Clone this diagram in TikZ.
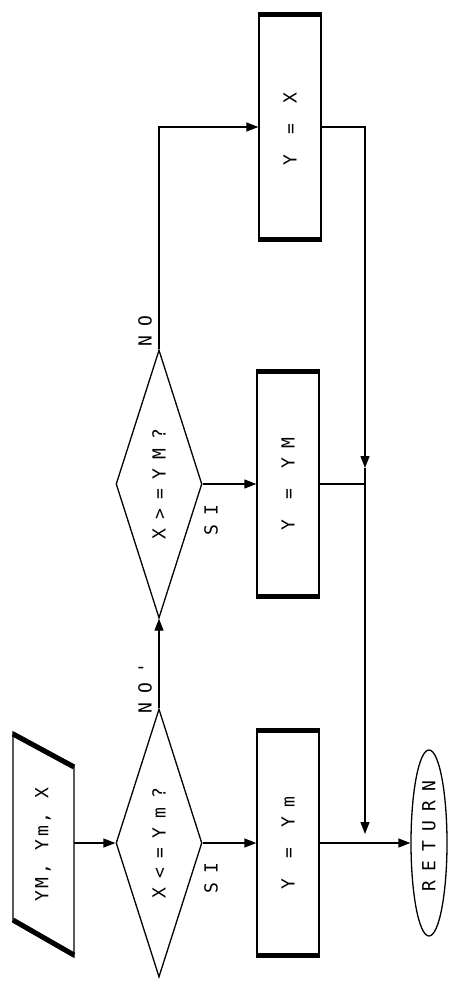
\documentclass[tikz,border=0pt]{standalone}
\usepackage{fontspec}
\usetikzlibrary{shapes.geometric,arrows.meta}
\newfontfamily\plotfont{DejaVu Sans Mono}[LetterSpace=50]
\newfontfamily\plotfontB{DejaVu Sans Mono}[LetterSpace=15]
\begin{document}
\begin{tikzpicture}[x=1pt,y=-1pt,
  ln/.style={line width=1.3pt},
  arr/.style={ln,-{Triangle[length=12pt,width=9pt]}},
  proc/.style={draw,ln,minimum width=62pt,minimum height=228pt,inner sep=0pt},
  dec/.style={draw,ln,diamond,minimum width=86pt,minimum height=268pt,inner sep=0pt},
  txt/.style={rotate=90,inner sep=0pt,font=\plotfont\fontsize{18}{18}\selectfont},
  txtB/.style={rotate=90,inner sep=0pt,font=\plotfontB\fontsize{18}{18}\selectfont},
  thick edge/.style={line width=5pt}
]
\fill[white] (0,0) rectangle (454,993);
\useasboundingbox (0,0) rectangle (454,993);

% input parallelogram
\coordinate (p1) at (13,732);
\coordinate (p2) at (74,765);
\coordinate (p3) at (74,957);
\coordinate (p4) at (13,922);
\draw[ln] (p1) -- (p2) -- (p3) -- (p4) -- cycle;
\draw[thick edge] ([yshift=-2pt]p1) -- ([yshift=-2pt]p2);
\draw[thick edge] ([yshift=2pt]p4) -- ([yshift=2pt]p3);
\node[txtB] (tin) at (43,845) {YM, Ym, X};
\coordinate (pin) at (74,843);

% decisions
\node[dec] (d1) at (159,843) {};
\node[txt] (td1) at (159,843) {X<=Ym?};
\node[dec] (d2) at (159,484) {};
\node[txt] (td2) at (159,484) {X>=YM?};

% process boxes
\node[proc] (b1) at (288,843) {};
\node[txt] (tb1) at (288,843) {Y = Ym};
\node[proc] (b2) at (288,484) {};
\node[txt] (tb2) at (288,484) {Y = YM};
\node[proc] (b3) at (290,127) {};
\node[txt] (tb3) at (290,129) {Y = X};
\foreach \b in {b1,b2,b3}{
  \draw[thick edge] ([yshift=-2.5pt]\b.north west) -- ([yshift=-2.5pt]\b.north east);
  \draw[thick edge] ([yshift=2.5pt]\b.south west) -- ([yshift=2.5pt]\b.south east);
}

% return
\node[draw,ln,ellipse,minimum width=36pt,minimum height=186pt,inner sep=0pt] (ret) at (429,843) {};
\node[txt] (tret) at (429,836) {RETURN};

% labels
\node[txt] (lno2) at (145,331) {NO};
\node[txt] (lno1) at (145,688) {NO'};
\node[txt] (lsi2) at (211,520) {SI};
\node[txt] (lsi1) at (211,878) {SI};

% connectors
\coordinate (t1) at (365,468);
\coordinate (t2) at (365,834);
\coordinate (j1) at (365,484);
\draw[arr] (pin) -- (d1.west);
\draw[arr] (d1.east) -- (b1.west);
\draw[arr] (d1.north) -- (d2.south);
\draw[arr] (d2.east) -- (b2.west);
\draw[arr] (d2.north) |- (b3.west);
\draw[arr] (b3.east) -| (t1);
\draw[arr] (t1) -- (t2);
\draw[ln] (b2.east) -- (j1);
\draw[arr] (b1.east) -- (ret.west);
\end{tikzpicture}
\end{document}
